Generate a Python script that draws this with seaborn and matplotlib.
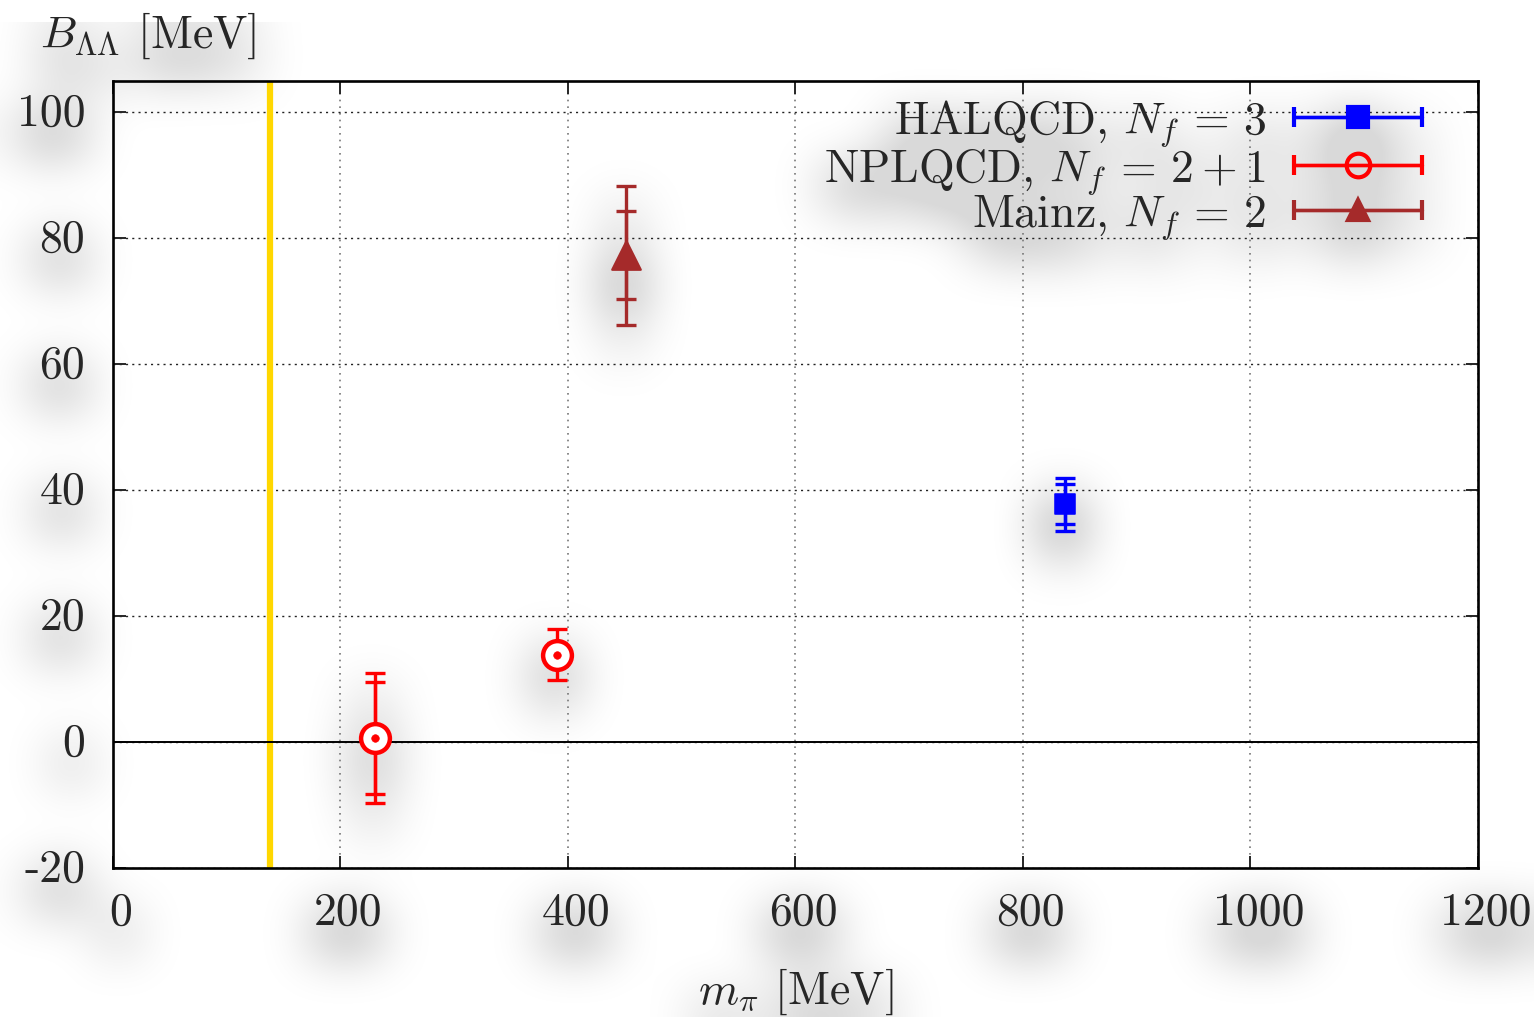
import numpy as np
import pandas as pd
import matplotlib
matplotlib.use("Agg")
import matplotlib.pyplot as plt
import matplotlib.transforms as mtransforms
from matplotlib.container import ErrorbarContainer
from matplotlib.legend_handler import HandlerErrorbar
import seaborn as sns

# data
groups = ["HALQCD", "NPLQCD", "NPLQCD", "Mainz"]
m_pi = [837, 230, 390, 451]          # MeV
b_ll = [37.8, 0.6, 13.9, 77.3]       # MeV
err_stat = [3.2, 8.9, 1.8, 7.0]
err_tot = [4.2, 10.3, 4.0, 11.0]
phys_mpi = 138

series = ["HALQCD", "NPLQCD", "Mainz"]
labels = [r"HALQCD, $N_f\,=\,3$", r"NPLQCD, $N_f\,=\,2 + 1$", r"Mainz, $N_f\,=\,2$"]
colors = ["#0000ff", "#ff0000", "#a52a2a"]
markers = ["s", "o", "^"]

df = pd.DataFrame({"group": groups, "m_pi": m_pi, "B": b_ll,
                   "stat": err_stat, "tot": err_tot})

FS = 33

sns.set_style("white")
plt.rcParams["font.family"] = ["cmr10", "DejaVu Serif"]
plt.rcParams["mathtext.fontset"] = "cm"
plt.rcParams["axes.unicode_minus"] = False
plt.rcParams["axes.formatter.use_mathtext"] = False

fig = plt.figure(figsize=(15.37, 10.17), dpi=100)
ax = fig.add_axes([0.0735, 0.1465, 0.888, 0.7739])
ax.set_facecolor("none")

vline = ax.axvline(phys_mpi, color="#ffd700", lw=4.5, zorder=2)
hline = ax.axhline(0, color="black", lw=1.4, zorder=2)

handles = []
for name, lab, col, mk in zip(series, labels, colors, markers):
    d = df[df["group"] == name]
    # total and statistical error bars
    ax.errorbar(d["m_pi"], d["B"], yerr=d["tot"], fmt="none", ecolor=col,
                elinewidth=2.4, capsize=7, capthick=2.4, zorder=3)
    ax.errorbar(d["m_pi"], d["B"], yerr=d["stat"], fmt="none", ecolor=col,
                elinewidth=2.4, capsize=7, capthick=2.4, zorder=3)
    if mk == "o":
        sns.scatterplot(data=d, x="m_pi", y="B", ax=ax, marker="o", s=430,
                        facecolor="white", edgecolor=col, linewidth=3.2,
                        zorder=4, legend=False)
        sns.scatterplot(data=d, x="m_pi", y="B", ax=ax, marker="o", s=30,
                        color=col, edgecolor=col, zorder=5, legend=False)
    elif mk == "s":
        sns.scatterplot(data=d, x="m_pi", y="B", ax=ax, marker="s", s=200,
                        color=col, edgecolor=col, zorder=4, legend=False)
    else:
        sns.scatterplot(data=d, x="m_pi", y="B", ax=ax, marker="^", s=420,
                        color=col, edgecolor=col, zorder=4, legend=False)
    # legend handle: horizontal bar with caps through the marker
    h = ax.errorbar([np.nan], [np.nan], xerr=[1], fmt=mk, ls="-", color=col,
                    lw=2.4, elinewidth=2.4, capsize=7, capthick=2.4,
                    ms=15 if mk != "o" else 17,
                    mfc=col if mk != "o" else "none", mew=3.0, label=lab)
    handles.append(h)

ax.set_xlim(0, 1200)
ax.set_ylim(-20, 105)
ax.set_xticks(range(0, 1201, 200))
ax.set_yticks(range(-20, 101, 20))
ax.set_ylabel("")
ax.set_axisbelow(True)
ax.tick_params(direction="in", length=9, width=1.4, labelsize=FS, pad=20,
               top=False, right=False, bottom=True, left=True)
ax.tick_params(axis="x", pad=17)
for sp in ax.spines.values():
    sp.set_color("black")
    sp.set_linewidth(1.9)

ax.set_xlabel(r"$m_\pi$ [MeV]", fontsize=FS, labelpad=24)
fig.text(0.026, 0.965, r"$B_{\Lambda\Lambda}$ [MeV]", fontsize=FS,
         ha="left", va="center")

leg = ax.legend(handles=handles, loc="upper right", bbox_to_anchor=(0.959, 0.978),
                frameon=False, fontsize=FS, markerfirst=False, handlelength=2.8,
                handletextpad=0.6, labelspacing=-0.07, borderaxespad=0.0, borderpad=0.0,
                handler_map={ErrorbarContainer: HandlerErrorbar(xerr_size=1.4, numpoints=1)})

# gnuplot puts the x labels a little right of the tick
shift_x = mtransforms.ScaledTranslation(8 / 100, 0, fig.dpi_scale_trans)
for t in ax.get_xticklabels():
    t.set_transform(t.get_transform() + shift_x)
shift_y = mtransforms.ScaledTranslation(0, 3 / 100, fig.dpi_scale_trans)
for t in ax.get_yticklabels():
    t.set_transform(t.get_transform() + shift_y)

# soft drop shadow: render texts and marks only, blur, put underneath
def box_blur(a, r, axis):
    pad = [(0, 0), (0, 0)]
    pad[axis] = (r + 1, r)
    c = np.cumsum(np.pad(a, pad, mode="edge"), axis=axis)
    n = a.shape[axis]
    hi = np.take(c, np.arange(2 * r + 1, 2 * r + 1 + n), axis=axis)
    lo = np.take(c, np.arange(0, n), axis=axis)
    return (hi - lo) / (2 * r + 1)

plain = list(ax.spines.values()) + [vline, hline]
plain += ax.xaxis.get_ticklines() + ax.yaxis.get_ticklines()
for a in plain:
    a.set_visible(False)
fig.canvas.draw()
img = np.asarray(fig.canvas.buffer_rgba()).astype(float)
ink = 1.0 - img[..., :3].mean(axis=2) / 255.0
for _ in range(3):
    ink = box_blur(ink, 25, 0)
    ink = box_blur(ink, 25, 1)
dy, dx = 22, -3
moved = np.zeros_like(ink)
moved[dy:, :dx] = ink[:-dy, -dx:]
alpha = np.clip(moved * 1.5, 0, 0.15)
shadow = np.zeros(ink.shape + (4,))
shadow[..., 3] = alpha
fig.figimage(shadow, xo=0, yo=0, origin="upper", zorder=-1)

for a in plain:
    a.set_visible(True)
ax.xaxis.grid(True, color="#777777", linestyle=(0, (1, 3)), linewidth=1.2)
ax.yaxis.grid(True, color="#222222", linestyle=(0, (1.5, 3)), linewidth=1.0)

fig.savefig("out.png", dpi=100, facecolor="white")
